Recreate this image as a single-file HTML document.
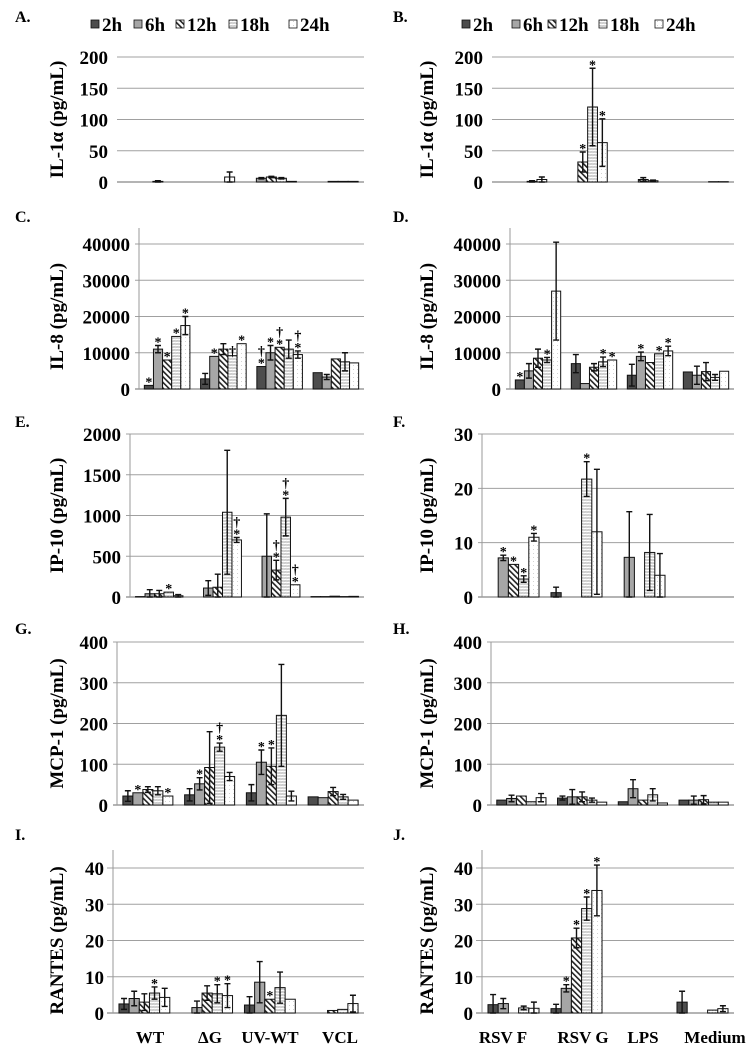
<!DOCTYPE html>
<html><head><meta charset="utf-8">
<style>
html,body{margin:0;padding:0;background:#fff;}
svg{display:block;font-family:"Liberation Serif",serif;font-weight:bold;}
</style></head>
<body>
<svg id="fig" width="754" height="1050" viewBox="0 0 754 1050" xmlns="http://www.w3.org/2000/svg">
<defs>
<pattern id="p12" width="4" height="4" patternUnits="userSpaceOnUse" patternTransform="rotate(-45)">
<rect width="4" height="4" fill="#fff"/><rect x="0" y="0" width="1.6" height="4" fill="#222"/></pattern>
<pattern id="p18" width="3" height="3" patternUnits="userSpaceOnUse">
<rect width="3" height="3" fill="#fff"/><path d="M0 2.5 L1.5 1 M1.5 3 L3 1.5" stroke="#999" stroke-width="0.7"/></pattern>
<pattern id="p24" width="4" height="4" patternUnits="userSpaceOnUse">
<rect width="4" height="4" fill="#fff"/><rect x="1" y="1" width="0.8" height="0.8" fill="#bbb"/></pattern>
</defs>
<g id="root"></g>
</svg>
<script>
// Series order: 2h, 6h, 12h, 18h, 24h ; groups in order of categories
const seriesNames = ['2h','6h','12h','18h','24h'];
const catsLeft = ['WT','ΔG','UV-WT','VCL'];
const catsRight = ['RSV F','RSV G','LPS','Medium'];

const A_means = [[0,0,0,1,0],[0,0,0,0,8],[0,6,8,6,1],[0,0,1,1,1]];
const A_errs  = [[0,0,0,1,0],[0,0,0,0,8],[0,1,1,1,0],[0,0,0,0,0]];
const A_sig   = [['','','','',''],['','','','',''],['','','','',''],['','','','','']];
const A_ticks = [0,50,100,150,200];

const B_means = [[0,0,0,1,4],[0,0,32,120,63],[0,0,4,2,0],[0,0,0,0.5,0.5]];
const B_errs  = [[0,0,0,1,4],[0,0,16,62,38],[0,0,3,1,0],[0,0,0,0,0]];
const B_sig   = [['','','','',''],['','','*','*','*'],['','','','',''],['','','','','']];
const B_ticks = [0,50,100,150,200];

const C_means = [[1000,11000,8000,14500,17500],[2800,9000,11000,9200,12500],[6200,10000,11500,11000,9500],[4500,3300,8300,7500,7200]];
const C_errs  = [[0,1000,0,0,2500],[1500,0,1500,0,0],[0,2000,0,2500,1000],[0,700,0,2500,0]];
const C_sig   = [['*','*','*','*','*'],['','*','','†','*'],['†*','*','†*','','†*'],['','','','','']];
const C_ticks = [0,10000,20000,30000,40000];

const D_means = [[2500,5000,8500,8000,27000],[7000,1500,6000,7500,8000],[3800,9000,7300,9700,10500],[4700,3800,4800,3200,4900]];
const D_errs  = [[0,2000,2500,700,13500],[2500,0,1000,1300,0],[3000,1200,0,0,1300],[0,2500,2500,800,0]];
const D_sig   = [['*','','','*',''],['','','','*','*'],['','*','','*','*'],['','','','','']];
const D_ticks = [0,10000,20000,30000,40000];

const E_means = [[5,40,40,60,15],[0,110,120,1040,700],[0,500,330,980,150],[5,5,10,5,8]];
const E_errs  = [[0,50,40,0,15],[0,90,160,760,30],[0,520,120,230,0],[0,0,0,0,0]];
const E_sig   = [['','','','*',''],['','','','','†*'],['','','†*','†*','†*'],['','','','','']];
const E_ticks = [0,500,1000,1500,2000];

const F_means = [[0,7.2,6,3.3,11],[0.8,0,0,21.7,12],[0,7.3,0,8.2,4],[0,0,0,0,0]];
const F_errs  = [[0,0.5,0,0.6,0.7],[1,0,0,3.2,11.5],[0,8.4,0,7,4],[0,0,0,0,0]];
const F_sig   = [['','*','*','*','*'],['','','','*',''],['','','','',''],['','','','','']];
const F_ticks = [0,10,20,30];

const G_means = [[22,30,38,35,22],[25,52,92,142,70],[30,105,95,220,22],[20,18,33,20,12]];
const G_errs  = [[13,0,7,10,0],[15,15,88,10,10],[20,30,45,125,12],[0,0,10,6,0]];
const G_sig   = [['','*','','','*'],['','*','','†*',''],['','*','*','',''],['','','','','']];
const G_ticks = [0,100,200,300,400];

const H_means = [[12,16,22,8,18],[17,20,20,12,7],[8,40,12,25,5],[12,12,13,7,7]];
const H_errs  = [[0,8,0,0,10],[5,18,12,5,0],[0,22,0,15,0],[0,10,10,0,0]];
const H_sig   = [['','','','',''],['','','','',''],['','','','',''],['','','','','']];
const H_ticks = [0,100,200,300,400];

const I_means = [[2.5,4,3,5.5,4.3],[0,1.5,5.5,5.3,4.8],[2.2,8.5,3.8,7,3.8],[0,0,0.7,1,2.6]];
const I_errs  = [[1.5,2,2.3,1.7,2.5],[0,1.8,2,2.5,3.3],[2.3,5.7,0,4.3,0],[0,0,0,0,2.3]];
const I_sig   = [['','','','*',''],['','','','*','*'],['','','*','',''],['','','','','']];
const I_ticks = [0,10,20,30,40];

const J_means = [[2.3,2.6,0,1.4,1.3],[1.2,6.8,20.7,28.8,33.8],[0,0,0,0,0],[3,0,0,0.8,1.2]];
const J_errs  = [[2.8,1.4,0,0.5,1.7],[1.2,1,2.7,3.2,7],[0,0,0,0,0],[3,0,0,0,0.8]];
const J_sig   = [['','','','',''],['','*','*','*','*'],['','','','',''],['','','','','']];
const J_ticks = [0,10,20,30,40];

const NS='http://www.w3.org/2000/svg';
const root=document.getElementById('root');
const fills=['#4d4d4d','#a6a6a6','url(#p12)','url(#p18)','url(#p24)'];

function mk(tag,attrs,parent){const e=document.createElementNS(NS,tag);for(const k in attrs)e.setAttribute(k,attrs[k]);(parent||root).appendChild(e);return e;}

function panel(o){
  const g=mk('g',{});
  
  
  const ymax=o.ticks[o.ticks.length-1];
  const yS=v=>o.y0-(v/ymax)*(o.y0-o.yTop);
  const gw=(o.x1-o.x0)/4, bw=gw*0.162;
  const lab=mk('text',{x:o.lx,y:o.ly,'font-size':16},g);lab.textContent=o.id+'.';
  
  
  o.ticks.forEach(t=>{
    const y=yS(t);
    if(t>0){const gl=mk('line',{x1:o.gx,x2:o.x1,y1:y,y2:y,stroke:'#a0a0a0','stroke-width':1},g);
      }
    const tl=mk('text',{x:o.x0-9,y:y+7,'font-size':19,'text-anchor':'end'},g);tl.textContent=t;
    
  });
  const ax=mk('line',{x1:o.gx,x2:o.x1,y1:o.y0,y2:o.y0,stroke:'#888','stroke-width':1.2},g);
  
  if(o.axTop){const ay=mk('line',{x1:o.x0,x2:o.x0,y1:o.axTop,y2:o.y0,stroke:'#999','stroke-width':1},g);
    }
  const tt=mk('text',{x:o.tx,y:(o.yTop+o.y0)/2,'font-size':19,'text-anchor':'middle',transform:'rotate(-90 '+o.tx+' '+(o.yTop+o.y0)/2+')'},g);
  tt.textContent=o.title;
  o.means.forEach((row,ci)=>{
    const cx=o.x0+gw*(ci+0.5);
    row.forEach((v,si)=>{
      const x=cx+(si-2.5)*bw;
      const yv=yS(v);
      if(v>0){const r=mk('rect',{x:x,y:yv,width:bw,height:o.y0-yv,fill:fills[si],stroke:'#111','stroke-width':1},g);
        }
      const e=o.errs[ci][si];let top=yv;
      if(e>0){const mx=x+bw/2,yt=yS(v+e),yb=yS(Math.max(0,v-e));top=yt;
        const eb=mk('path',{d:`M${mx} ${yb}V${yt}M${mx-3} ${yt}H${mx+3}M${mx-3} ${yb}H${mx+3}`,stroke:'#111','stroke-width':1.4,fill:'none'},g);
        }
      const s=o.sig[ci][si];
      if(s){let yy=top+1;
        for(let k=s.length-1;k>=0;k--){const st=mk('text',{x:x+bw/2,y:yy+(s[k]==='†'?-1:0),'font-size':14,'text-anchor':'middle'},g);st.textContent=s[k];
          yy-=11;}
      }
    });
    if(o.cats){const cl=mk('text',{x:o.catX[ci],y:1043,'font-size':17,'text-anchor':'middle'},g);cl.textContent=o.cats[ci];
      }
  });
}
function legend(xs,id){
  const g=mk('g',{});
  
  
  xs.forEach((x,i)=>{
    const r=mk('rect',{x:x,y:20,width:8,height:8,fill:fills[i],stroke:'#111','stroke-width':0.8},g);
    
    const t=mk('text',{x:x+11,y:31,'font-size':19},g);t.textContent=seriesNames[i];
    
  });
}
legend([91,134,176,229,289],'left');
legend([462,512,548,599,655],'right');

panel({id:'A',title:'IL-1α (pg/mL)',means:A_means,errs:A_errs,sig:A_sig,ticks:A_ticks,x0:117,gx:117,x1:364,yTop:57,y0:182,lx:15,ly:22,tx:63});
panel({id:'B',title:'IL-1α (pg/mL)',means:B_means,errs:B_errs,sig:B_sig,ticks:B_ticks,x0:492,gx:492,x1:734,yTop:57,y0:182,lx:393,ly:22,tx:433});
panel({id:'C',title:'IL-8 (pg/mL)',means:C_means,errs:C_errs,sig:C_sig,ticks:C_ticks,x0:139,gx:135,x1:364,yTop:244,y0:389,lx:15,ly:222,tx:63,axTop:228});
panel({id:'D',title:'IL-8 (pg/mL)',means:D_means,errs:D_errs,sig:D_sig,ticks:D_ticks,x0:510,gx:506,x1:734,yTop:244,y0:389,lx:393,ly:222,tx:433,axTop:228});
panel({id:'E',title:'IP-10 (pg/mL)',means:E_means,errs:E_errs,sig:E_sig,ticks:E_ticks,x0:130,gx:126,x1:364,yTop:434,y0:597,lx:15,ly:427,tx:63,axTop:434});
panel({id:'F',title:'IP-10 (pg/mL)',means:F_means,errs:F_errs,sig:F_sig,ticks:F_ticks,x0:482,gx:478,x1:734,yTop:434,y0:597,lx:393,ly:427,tx:433,axTop:434});
panel({id:'G',title:'MCP-1 (pg/mL)',means:G_means,errs:G_errs,sig:G_sig,ticks:G_ticks,x0:117,gx:113,x1:364,yTop:642,y0:805,lx:15,ly:634,tx:63,axTop:642});
panel({id:'H',title:'MCP-1 (pg/mL)',means:H_means,errs:H_errs,sig:H_sig,ticks:H_ticks,x0:491,gx:487,x1:734,yTop:642,y0:805,lx:393,ly:634,tx:433,axTop:642});
panel({id:'I',title:'RANTES (pg/mL)',means:I_means,errs:I_errs,sig:I_sig,ticks:I_ticks,x0:113,gx:107,x1:364,yTop:868,y0:1013,lx:15,ly:840,tx:63,axTop:850,cats:catsLeft,catX:[150,210,270,340]});
panel({id:'J',title:'RANTES (pg/mL)',means:J_means,errs:J_errs,sig:J_sig,ticks:J_ticks,x0:482,gx:476,x1:734,yTop:868,y0:1013,lx:393,ly:840,tx:433,axTop:850,cats:catsRight,catX:[503,583,643,715]});
</script>
</body></html>
